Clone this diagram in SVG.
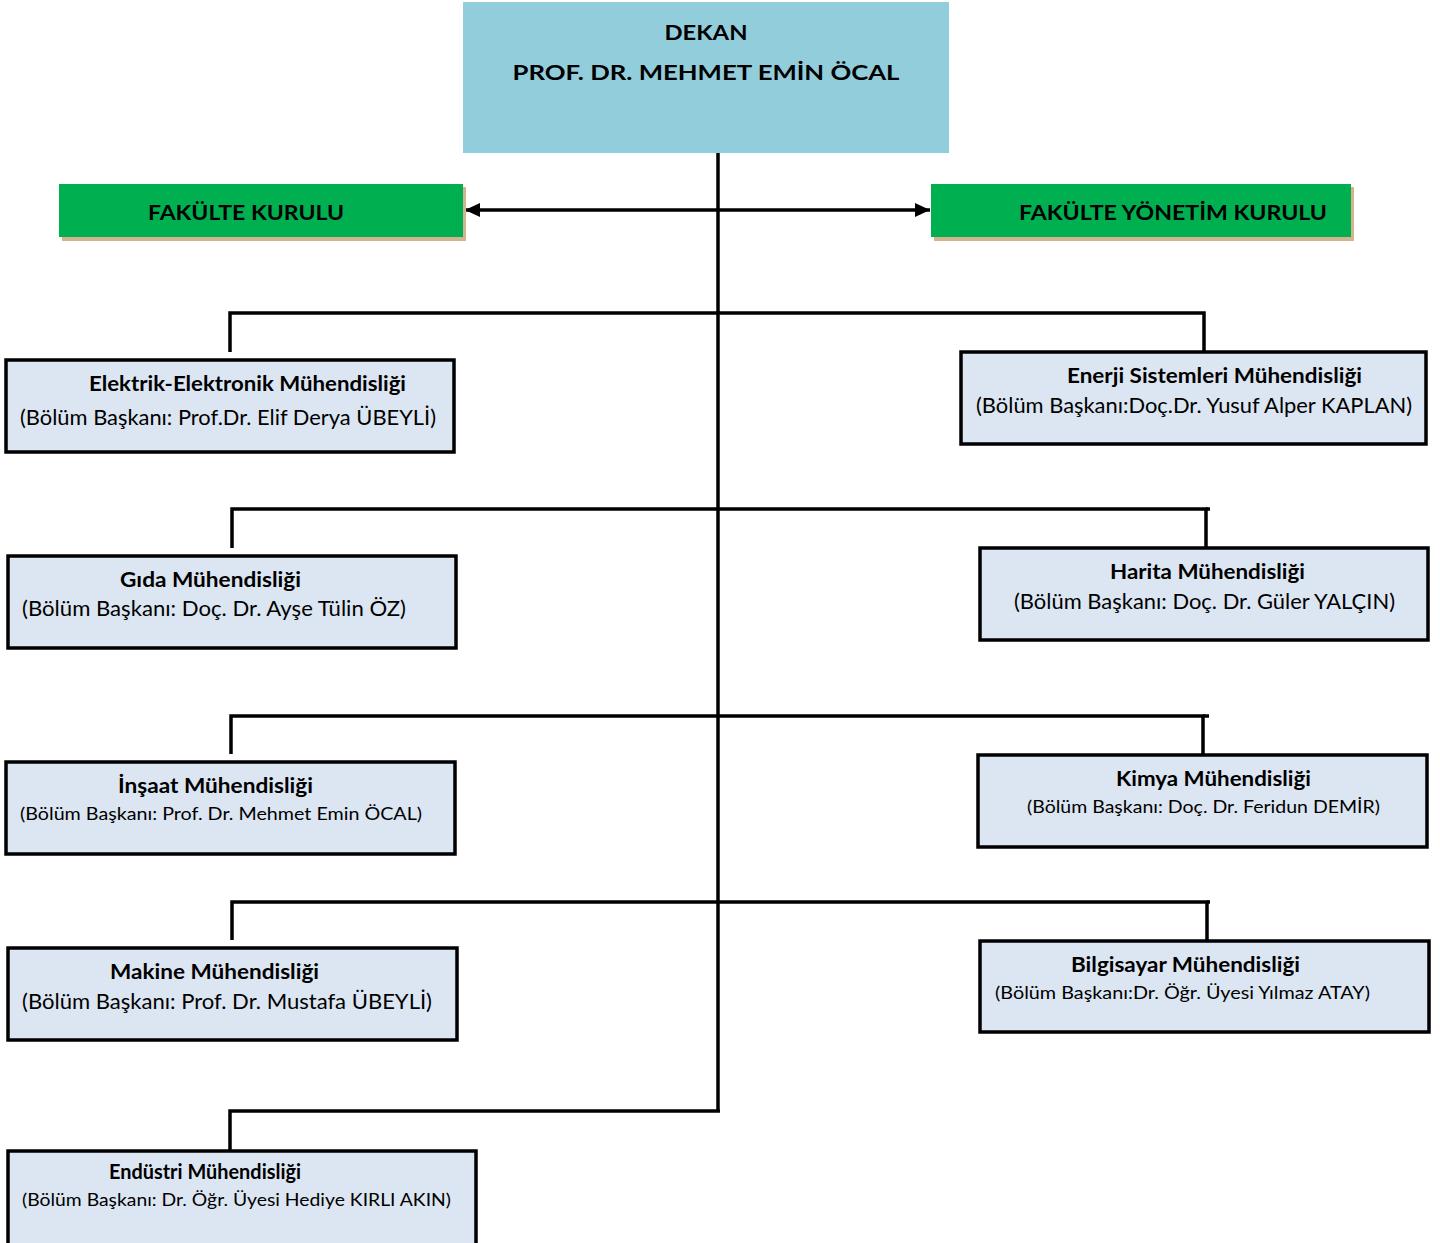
<svg xmlns="http://www.w3.org/2000/svg" width="1440" height="1243" viewBox="0 0 1440 1243">
<style>
text{font-family:Lato,"Open Sans","Liberation Sans",sans-serif;fill:#000}
.t{font-weight:bold;font-size:21px}
.s{font-size:21px}
.s2{font-size:18px}
.dept{fill:#DCE6F2;stroke:#000;stroke-width:3.5}
.green{fill:#00B050}
.shadow{fill:#D4B48F}
.ln{stroke:#000;stroke-width:3.5;fill:none}
</style>
<defs>
<marker id="ah" viewBox="0 0 15 14" refX="15" refY="7" markerWidth="15" markerHeight="14" markerUnits="userSpaceOnUse" orient="auto-start-reverse">
<path d="M0,0 L15,7 L0,14 Z" fill="#000"/>
</marker>
</defs>
<g id="connectors">
<line class="ln" x1="718" y1="153" x2="718" y2="1112"/>
<line class="ln" x1="465" y1="210" x2="930" y2="210" marker-start="url(#ah)" marker-end="url(#ah)"/>
<polyline class="ln" points="230,352 230,313 1204,313 1204,352"/>
<polyline class="ln" points="232,548 232,509 1206,509 1206,548"/>
<line class="ln" x1="1206" y1="509" x2="1210" y2="509"/>
<polyline class="ln" points="231,754 231,716 1203,716 1203,754"/>
<line class="ln" x1="1203" y1="716" x2="1209" y2="716"/>
<polyline class="ln" points="232,940 232,902 1207,902 1207,940"/>
<line class="ln" x1="1207" y1="902" x2="1210" y2="902"/>
<polyline class="ln" points="230,1150 230,1111 720,1111"/>
</g>
<g id="dekan">
<rect x="463" y="2" width="486" height="151" fill="#92CDDC"/>
<text class="t" x="706" y="40" text-anchor="middle" font-size="24" textLength="83" lengthAdjust="spacingAndGlyphs">DEKAN</text>
<text class="t" x="706" y="80" text-anchor="middle" font-size="24" textLength="387" lengthAdjust="spacingAndGlyphs">PROF. DR. MEHMET EMİN ÖCAL</text>
</g>
<g id="fakulte-kurulu">
<rect class="shadow" x="62" y="187" width="404" height="54"/>
<rect class="green" x="59" y="184" width="404" height="53"/>
<text class="t" x="148" y="220" font-size="22" textLength="196" lengthAdjust="spacingAndGlyphs">FAKÜLTE KURULU</text>
</g>
<g id="fakulte-yonetim-kurulu">
<rect class="shadow" x="934" y="187" width="420" height="54"/>
<rect class="green" x="931" y="184" width="420" height="53"/>
<text class="t" x="1019" y="220" font-size="22" textLength="308" lengthAdjust="spacingAndGlyphs">FAKÜLTE YÖNETİM KURULU</text>
</g>
<g id="elektrik">
<rect class="dept" x="6" y="360" width="448" height="92"/>
<text class="t" x="89" y="391" textLength="317" lengthAdjust="spacingAndGlyphs">Elektrik-Elektronik Mühendisliği</text>
<text class="s" x="20" y="425" textLength="416" lengthAdjust="spacingAndGlyphs">(Bölüm Başkanı: Prof.Dr. Elif Derya ÜBEYLİ)</text>
</g>
<g id="enerji">
<rect class="dept" x="961" y="352" width="465" height="92"/>
<text class="t" x="1067" y="383" textLength="295" lengthAdjust="spacingAndGlyphs">Enerji Sistemleri Mühendisliği</text>
<text class="s" x="976" y="413" textLength="436" lengthAdjust="spacingAndGlyphs">(Bölüm Başkanı:Doç.Dr. Yusuf Alper KAPLAN)</text>
</g>
<g id="gida">
<rect class="dept" x="8" y="556" width="448" height="92"/>
<text class="t" x="120" y="587" textLength="181" lengthAdjust="spacingAndGlyphs">Gıda Mühendisliği</text>
<text class="s" x="22" y="616" textLength="384" lengthAdjust="spacingAndGlyphs">(Bölüm Başkanı: Doç. Dr. Ayşe Tülin ÖZ)</text>
</g>
<g id="harita">
<rect class="dept" x="980" y="548" width="448" height="92"/>
<text class="t" x="1110" y="579" textLength="195" lengthAdjust="spacingAndGlyphs">Harita Mühendisliği</text>
<text class="s" x="1014" y="609" textLength="381" lengthAdjust="spacingAndGlyphs">(Bölüm Başkanı: Doç. Dr. Güler YALÇIN)</text>
</g>
<g id="insaat">
<rect class="dept" x="6" y="762" width="449" height="92"/>
<text class="t" x="118" y="793" textLength="195" lengthAdjust="spacingAndGlyphs">İnşaat Mühendisliği</text>
<text class="s2" x="20" y="820" textLength="402" lengthAdjust="spacingAndGlyphs">(Bölüm Başkanı: Prof. Dr. Mehmet Emin ÖCAL)</text>
</g>
<g id="kimya">
<rect class="dept" x="978" y="755" width="449" height="92"/>
<text class="t" x="1116" y="786" textLength="195" lengthAdjust="spacingAndGlyphs">Kimya Mühendisliği</text>
<text class="s2" x="1027" y="813" textLength="353" lengthAdjust="spacingAndGlyphs">(Bölüm Başkanı: Doç. Dr. Feridun DEMİR)</text>
</g>
<g id="makine">
<rect class="dept" x="8" y="948" width="449" height="92"/>
<text class="t" x="110" y="979" textLength="209" lengthAdjust="spacingAndGlyphs">Makine Mühendisliği</text>
<text class="s" x="22" y="1009" textLength="410" lengthAdjust="spacingAndGlyphs">(Bölüm Başkanı: Prof. Dr. Mustafa ÜBEYLİ)</text>
</g>
<g id="bilgisayar">
<rect class="dept" x="980" y="941" width="449" height="91"/>
<text class="t" x="1071" y="972" textLength="229" lengthAdjust="spacingAndGlyphs">Bilgisayar Mühendisliği</text>
<text class="s2" x="995" y="999" textLength="375" lengthAdjust="spacingAndGlyphs">(Bölüm Başkanı:Dr. Öğr. Üyesi Yılmaz ATAY)</text>
</g>
<g id="endustri">
<rect class="dept" x="8" y="1151" width="468" height="94"/>
<text class="t" x="109" y="1179" font-size="19" textLength="192" lengthAdjust="spacingAndGlyphs">Endüstri Mühendisliği</text>
<text class="s2" x="22" y="1206" textLength="429" lengthAdjust="spacingAndGlyphs">(Bölüm Başkanı: Dr. Öğr. Üyesi Hediye KIRLI AKIN)</text>
</g>
</svg>
